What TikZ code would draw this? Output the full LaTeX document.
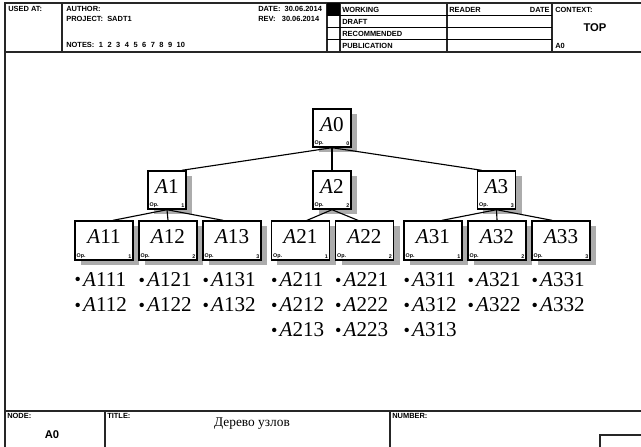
\documentclass[tikz,border=0pt]{standalone}
\usepackage{fontspec}
\setmainfont{Liberation Serif}
\setsansfont{Liberation Sans}
\usepackage{tikz}
\usetikzlibrary{positioning, shadows}

\newcommand{\nd}[1]{\textit{A}#1}
\newcommand{\leaf}[1]{\raisebox{0.6pt}{\fontsize{13}{13}\selectfont\textbullet}\kern1.5pt\nd{#1}}

\begin{document}
\begin{tikzpicture}[x=0.025cm, y=-0.025cm, node distance=1.6cm,
    frame/.style={line width=1pt, black!85},
    rowline/.style={line width=0.6pt},
    hdr/.style={font=\sffamily\bfseries\fontsize{5.3}{6}\selectfont, inner sep=0pt},
    sq/.style={draw, line width=1pt, fill=white, minimum width=0.95cm, minimum height=0.95cm, inner sep=0pt,
        font=\fontsize{15}{17}\selectfont, text height=9.8pt, text depth=5pt,
        general shadow={fill=gray!65, shadow xshift=0.15cm, shadow yshift=-0.12cm}},
    wide/.style={sq, minimum width=1.45cm, minimum height=0.97cm},
    optag/.style={font=\sffamily\bfseries\fontsize{3.8}{4}\selectfont, inner sep=1.5pt},
    tline/.style={line width=0.8pt},
    leaves/.style={anchor=north west, inner sep=0pt, align=left, font=\fontsize{15}{17.8}\selectfont}]
    \useasboundingbox (0,0) rectangle (641,447);

    % Header frame
    \draw[frame] (5,447) -- (5,3) -- (641,3);
    \draw[frame] (5,52) -- (641,52);
    \draw[frame] (62,3) -- (62,52);
    \draw[frame] (327,3) -- (327,52);
    \draw[frame] (340,3) -- (340,52);
    \draw[frame] (447,3) -- (447,52);
    \draw[frame] (552,3) -- (552,52);
    \foreach \y in {15.25, 27.5, 39.75}
        \draw[rowline] (327,\y) -- (552,\y);
    \fill (327,3) rectangle (340,15.25);

    % Header texts
    \node[hdr, anchor=north west] (usedat) at (8,6) {USED AT:};
    \node[hdr, anchor=north west] (author) at (66,6) {AUTHOR:};
    \node[hdr, anchor=north west] (project) at (66,16) {PROJECT:\ \ SADT1};
    \node[hdr, anchor=north west] (notes) at (66,42) {\spaceskip=3.2pt\relax NOTES: 1 2 3 4 5 6 7 8 9 10};
    \node[hdr, anchor=north west] (date) at (258,6) {DATE:\ \ 30.06.2014};
    \node[hdr, anchor=north west] (rev) at (258,16) {REV:\ \ \ 30.06.2014};
    \node[hdr, anchor=west] (working) at (342,9.5) {WORKING};
    \node[hdr, anchor=west] (draft) at (342,21.5) {DRAFT};
    \node[hdr, anchor=west] (recommended) at (342,33.5) {RECOMMENDED};
    \node[hdr, anchor=west] (publication) at (342,46) {PUBLICATION};
    \node[hdr, anchor=west] (reader) at (449,9.5) {READER};
    \node[hdr, anchor=east] (rdate) at (550,9.5) {DATE};
    \node[hdr, anchor=west] (context) at (555,9.5) {CONTEXT:};
    \node[font=\sffamily\bfseries\fontsize{8}{9}\selectfont, inner sep=0pt] (top) at (595,27.5) {TOP};
    \node[hdr, anchor=west] (ctxnode) at (555,46) {A0};

    % Footer
    \draw[frame] (5,411) -- (641,411);
    \draw[frame] (105,411) -- (105,447);
    \draw[frame] (390,411) -- (390,447);
    \draw[frame] (600,447) -- (600,435) -- (641,435);
    \node[hdr, anchor=north west] (nodelbl) at (7,413) {NODE:};
    \node[font=\sffamily\bfseries\fontsize{8}{9}\selectfont, inner sep=0pt] (nodeval) at (52,435) {A0};
    \node[hdr, anchor=north west] (titlelbl) at (107,413) {TITLE:};
    \node[font=\fontsize{9.5}{11}\selectfont, inner sep=0pt] (title) at (252,424) {Дерево узлов};
    \node[hdr, anchor=north west] (numberlbl) at (392,413) {NUMBER:};

    % Tree
    \node[sq] (A0) at (332,128) {\nd{0}};
    \node[sq] (A2) at (332,190) {\nd{2}};
    \node[sq] (A1) at (167,190) {\nd{1}};
    \node[sq] (A3) at (496.5,190) {\nd{3}};

    \node[wide] (A11) at (104,240.5) {\nd{11}};
    \node[wide, right of=A11] (A12) {\nd{12}};
    \node[wide, right of=A12] (A13) {\nd{13}};
    \node[wide] (A21) at (300.5,240.5) {\nd{21}};
    \node[wide, right of=A21] (A22) {\nd{22}};
    \node[wide] (A31) at (433,240.5) {\nd{31}};
    \node[wide, right of=A31] (A32) {\nd{32}};
    \node[wide, right of=A32] (A33) {\nd{33}};

    \foreach \n/\k in {A0/0, A1/1, A2/2, A3/3, A11/1, A12/2, A13/3, A21/1, A22/2, A31/1, A32/2, A33/3} {
        \node[optag, anchor=south west] (op\n) at (\n.south west) {Op.};
        \node[optag, anchor=south east] (num\n) at (\n.south east) {\k};
    }

    % Links
    \draw[tline] (A0.south) -- ([xshift=-0.12cm]A1.north east);
    \draw[tline] (A0.south) -- (A2.north);
    \draw[tline] (A0.south) -- ([xshift=0.12cm]A3.north west);
    \draw[tline] (A1.south) -- ([xshift=0.22cm]A11.north);
    \draw[tline] (A1.south) -- (A12.north);
    \draw[tline] (A1.south) -- ([xshift=-0.22cm]A13.north);
    \draw[tline] (A2.south) -- ([xshift=0.16cm]A21.north);
    \draw[tline] (A2.south) -- ([xshift=-0.16cm]A22.north);
    \draw[tline] (A3.south) -- ([xshift=0.22cm]A31.north);
    \draw[tline] (A3.south) -- (A32.north);
    \draw[tline] (A3.south) -- ([xshift=-0.22cm]A33.north);

    % Leaf lists
    \node[leaves] (L11) at ([yshift=-0.3cm]A11.south west) {\leaf{111}\\\leaf{112}};
    \node[leaves] (L12) at ([yshift=-0.3cm]A12.south west) {\leaf{121}\\\leaf{122}};
    \node[leaves] (L13) at ([yshift=-0.3cm]A13.south west) {\leaf{131}\\\leaf{132}};
    \node[leaves] (L21) at ([yshift=-0.3cm]A21.south west) {\leaf{211}\\\leaf{212}\\\leaf{213}};
    \node[leaves] (L22) at ([yshift=-0.3cm]A22.south west) {\leaf{221}\\\leaf{222}\\\leaf{223}};
    \node[leaves] (L31) at ([yshift=-0.3cm]A31.south west) {\leaf{311}\\\leaf{312}\\\leaf{313}};
    \node[leaves] (L32) at ([yshift=-0.3cm]A32.south west) {\leaf{321}\\\leaf{322}};
    \node[leaves] (L33) at ([yshift=-0.3cm]A33.south west) {\leaf{331}\\\leaf{332}};
\end{tikzpicture}
\end{document}
